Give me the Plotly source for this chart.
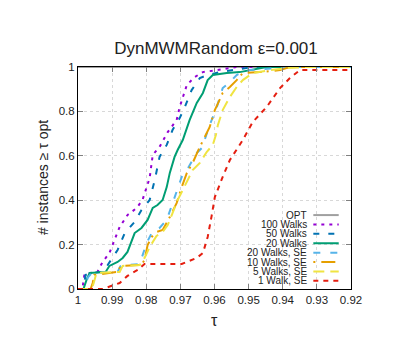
import plotly.graph_objects as go

# datos: tau (eje x invertido) y fraccion de instancias
tau_opt = [1.0, 0.92]
val_opt = [1.0, 1.0]

tau_100 = [1.0, 0.9987, 0.9981, 0.9943, 0.9928, 0.9908, 0.9893, 0.9878, 0.9855, 0.9828, 0.9811,
           0.9790, 0.9781, 0.9761, 0.9737, 0.9711, 0.9702, 0.9681, 0.9658, 0.9634, 0.9593, 0.9535, 0.92]
val_100 = [0.0, 0.0, 0.068, 0.077, 0.122, 0.162, 0.221, 0.279, 0.333, 0.365, 0.401,
           0.50, 0.604, 0.640, 0.707, 0.761, 0.820, 0.919, 0.955, 0.977, 0.986, 1.0, 1.0]

tau_50 = [1.0, 0.9984, 0.9978, 0.9966, 0.9928, 0.9913, 0.9884, 0.9863, 0.9834, 0.9814, 0.9790,
          0.9775, 0.9761, 0.9740, 0.9723, 0.9702, 0.9687, 0.9667, 0.9643, 0.9620, 0.9585, 0.9546, 0.9488, 0.92]
val_50 = [0.0, 0.0, 0.063, 0.072, 0.077, 0.108, 0.176, 0.252, 0.302, 0.356, 0.401,
          0.491, 0.595, 0.649, 0.716, 0.770, 0.820, 0.896, 0.950, 0.964, 0.977, 0.986, 1.0, 1.0]

tau_20 = [1.0, 0.9984, 0.9975, 0.9966, 0.9919, 0.9908, 0.9884, 0.9869, 0.9855, 0.9843, 0.9834,
          0.9814, 0.9796, 0.9781, 0.9767, 0.9752, 0.9740, 0.9731, 0.9717, 0.9708, 0.9693, 0.9673,
          0.9652, 0.9634, 0.9620, 0.9605, 0.9564, 0.9526, 0.9467, 0.9447, 0.92]
val_20 = [0.0, 0.0, 0.041, 0.072, 0.077, 0.104, 0.122, 0.140, 0.167, 0.221, 0.252,
          0.275, 0.311, 0.365, 0.378, 0.401, 0.459, 0.523, 0.595, 0.626, 0.671, 0.761,
          0.838, 0.883, 0.941, 0.964, 0.973, 0.977, 0.995, 1.0, 1.0]

tau_20se = [1.0, 0.9978, 0.9972, 0.9960, 0.9884, 0.9875, 0.9819, 0.9811, 0.9799, 0.9784, 0.9761,
            0.9740, 0.9723, 0.9696, 0.9681, 0.9652, 0.9637, 0.9614, 0.9593, 0.9576, 0.9555, 0.9535,
            0.9505, 0.9408, 0.9359, 0.92]
val_20se = [0.0, 0.0, 0.05, 0.072, 0.077, 0.104, 0.113, 0.153, 0.207, 0.252, 0.275,
            0.311, 0.387, 0.505, 0.536, 0.613, 0.635, 0.739, 0.820, 0.905, 0.932, 0.964,
            0.986, 0.995, 1.0, 1.0]

tau_10se = [1.0, 0.9963, 0.9957, 0.9952, 0.9884, 0.9875, 0.9814, 0.9805, 0.9796, 0.9784, 0.9770,
            0.9752, 0.9731, 0.9711, 0.9696, 0.9681, 0.9664, 0.9643, 0.9614, 0.9599, 0.9576, 0.9555,
            0.9535, 0.9517, 0.9467, 0.9408, 0.9379, 0.92]
val_10se = [0.0, 0.0, 0.027, 0.063, 0.077, 0.104, 0.108, 0.131, 0.198, 0.234, 0.257,
            0.266, 0.324, 0.387, 0.459, 0.523, 0.568, 0.640, 0.730, 0.806, 0.883, 0.910,
            0.941, 0.973, 0.977, 0.986, 1.0, 1.0]

tau_5se = [1.0, 0.9960, 0.9954, 0.9946, 0.9878, 0.9869, 0.9819, 0.9805, 0.9790, 0.9770, 0.9752,
           0.9737, 0.9723, 0.9708, 0.9693, 0.9678, 0.9664, 0.9643, 0.9623, 0.9605, 0.9596, 0.9590,
           0.9576, 0.9555, 0.9535, 0.9517, 0.9488, 0.9438, 0.9388, 0.9329, 0.92]
val_5se = [0.0, 0.0, 0.027, 0.072, 0.077, 0.104, 0.108, 0.140, 0.189, 0.239, 0.257,
           0.288, 0.342, 0.401, 0.446, 0.491, 0.536, 0.568, 0.617, 0.649, 0.694, 0.739,
           0.806, 0.865, 0.910, 0.941, 0.973, 0.986, 0.995, 1.0, 1.0]

tau_1se = [1.0, 0.9928, 0.9878, 0.9855, 0.9825, 0.9805, 0.9696, 0.9652, 0.9634, 0.9626, 0.9620,
           0.9608, 0.9599, 0.9576, 0.9555, 0.9517, 0.9488, 0.9447, 0.9429, 0.9408, 0.9379, 0.9361,
           0.9350, 0.92]
val_1se = [0.0, 0.0, 0.027, 0.059, 0.086, 0.113, 0.113, 0.140, 0.162, 0.198, 0.234,
           0.333, 0.414, 0.505, 0.581, 0.671, 0.752, 0.820, 0.860, 0.905, 0.950, 0.973,
           0.986, 0.986]

x_ticks = [1.0, 0.99, 0.98, 0.97, 0.96, 0.95, 0.94, 0.93, 0.92]
x_labels = ['1', '0.99', '0.98', '0.97', '0.96', '0.95', '0.94', '0.93', '0.92']
y_ticks = [0, 0.2, 0.4, 0.6, 0.8, 1]
y_labels = ['0', '0.2', '0.4', '0.6', '0.8', '1']

series = [
    ('OPT', tau_opt, val_opt, '#a0a0a0', 'solid'),
    ('100 Walks', tau_100, val_100, '#9400D3', '3px,5px'),
    ('50 Walks', tau_50, val_50, '#0072B2', '6px,9px'),
    ('20 Walks', tau_20, val_20, '#009E73', 'solid'),
    ('20 Walks, SE', tau_20se, val_20se, '#56B4E9', '7px,10px'),
    ('10 Walks, SE', tau_10se, val_10se, '#E69F00', '2px,6px,14px,5px'),
    ('5 Walks, SE', tau_5se, val_5se, '#F0E442', '11px,6px'),
    ('1 Walk, SE', tau_1se, val_1se, '#E51E10', '5px,5px'),
]

fig = go.Figure()
for nombre, xs, ys, color, dash in series:
    fig.add_trace(go.Scatter(x=xs, y=ys, mode='lines', name=nombre,
                             line=dict(color=color, width=2, dash=dash)))

# leyenda estilo gnuplot: texto a la derecha, muestra de linea a la derecha
anotaciones = []
formas = []
for i, (nombre, xs, ys, color, dash) in enumerate(series):
    yy = 0.333 - i * 0.0423
    anotaciones.append(dict(text=nombre, x=0.845, y=yy, xref='paper', yref='paper',
                            xanchor='right', yanchor='middle', showarrow=False,
                            font=dict(size=10, color='#222222')))
    formas.append(dict(type='line', xref='paper', yref='paper', x0=0.862, x1=0.955,
                       y0=yy, y1=yy, line=dict(color=color, width=2, dash=dash)))

anotaciones.append(dict(text='τ', x=0.5, y=-0.095, xref='paper', yref='paper',
                        xanchor='center', yanchor='top', showarrow=False,
                        font=dict(size=16, color='#222222')))
anotaciones.append(dict(text='# instances ≥ τ opt', x=-0.128, y=0.5, xref='paper', yref='paper',
                        xanchor='center', yanchor='middle', showarrow=False, textangle=-90,
                        font=dict(size=14, color='#222222')))

# la pagina agrega 8px de margen al cuerpo, se compensa aqui
fig.update_layout(
    width=407, height=350,
    margin=dict(l=70, r=64, t=59, b=69),
    paper_bgcolor='white', plot_bgcolor='white',
    font=dict(family='Liberation Sans, Arial, sans-serif', color='#222222'),
    title=dict(text='DynMWMRandom ε=0.001', x=0.511, xanchor='center', y=0.886, yanchor='middle',
               font=dict(size=17, color='#222222')),
    showlegend=False,
    annotations=anotaciones,
    shapes=formas,
)
fig.update_xaxes(range=[1.0, 0.92], tickvals=x_ticks, ticktext=x_labels,
                 showline=True, linecolor='black', linewidth=1, mirror='ticks',
                 ticks='inside', ticklen=5, tickcolor='#808080',
                 showgrid=True, gridcolor='#d8d8d8', griddash='dot', zeroline=False,
                 tickfont=dict(size=11.5))
fig.update_yaxes(range=[0, 1], tickvals=y_ticks, ticktext=y_labels,
                 showline=True, linecolor='black', linewidth=1, mirror='ticks',
                 ticks='inside', ticklen=5, tickcolor='#808080',
                 showgrid=True, gridcolor='#d8d8d8', griddash='dot', zeroline=False,
                 tickfont=dict(size=11.5))

fig.write_html("out.html")
